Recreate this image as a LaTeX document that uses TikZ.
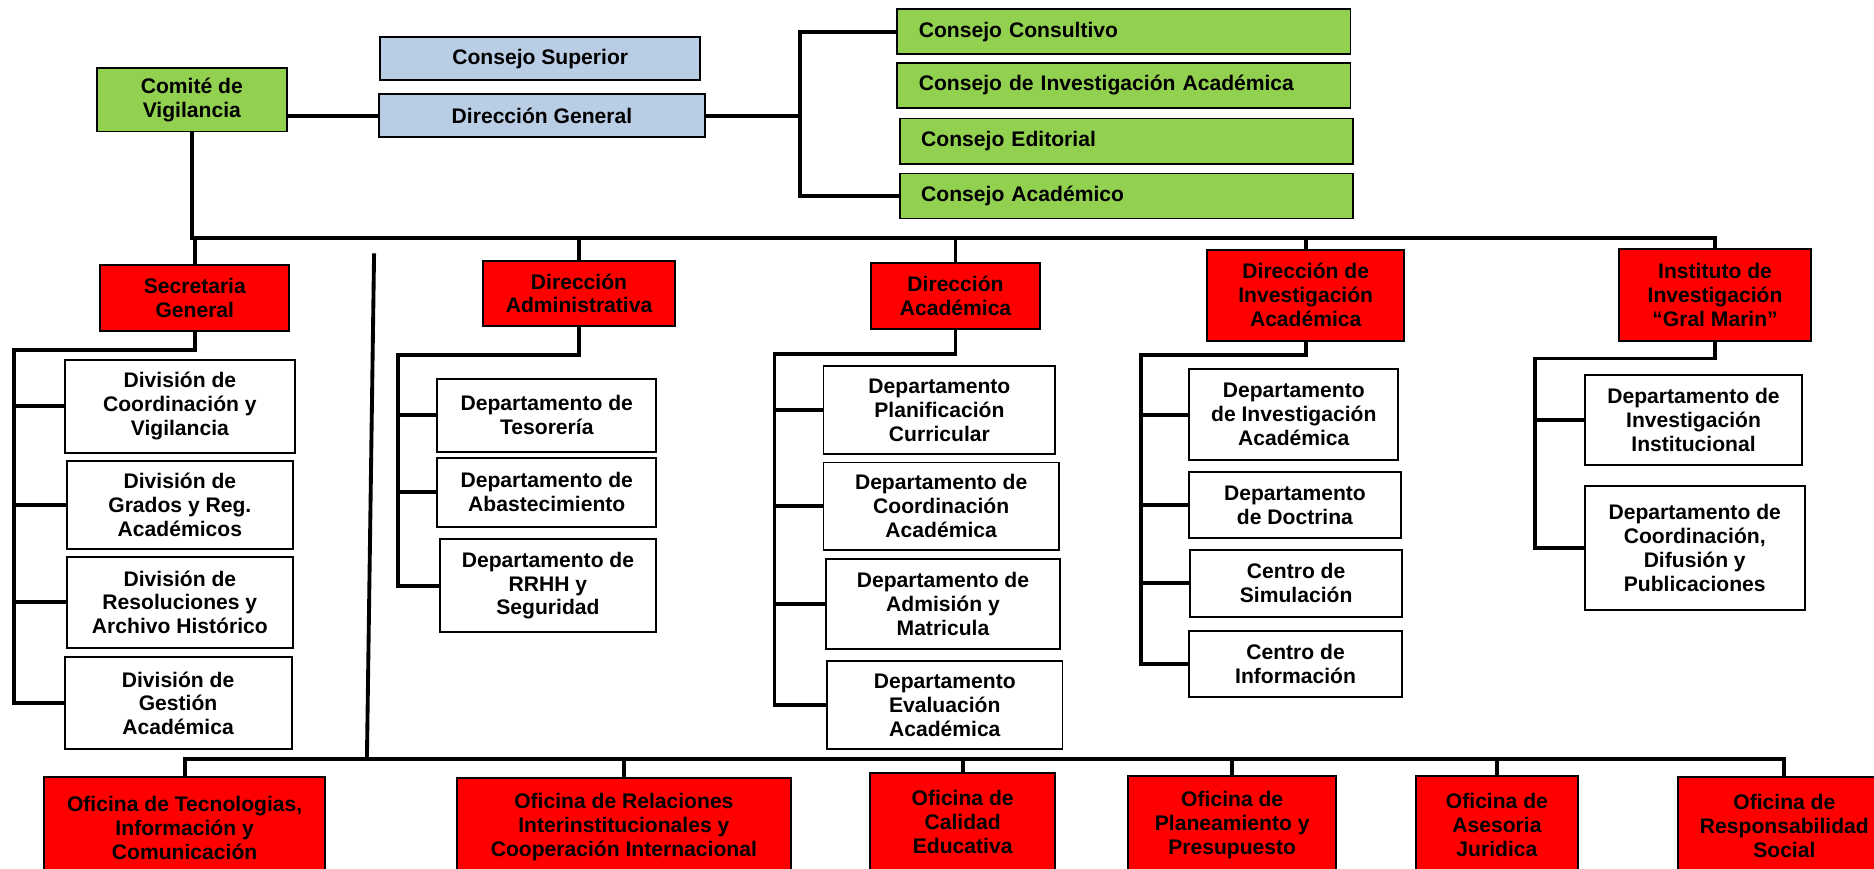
\documentclass[tikz,border=0pt]{standalone}
\usepackage{fontspec}
\setmainfont{Liberation Sans}
\definecolor{govblue}{HTML}{B9CDE5}
\definecolor{congreen}{HTML}{92D050}
\definecolor{unitred}{HTML}{FF0000}
\begin{document}
\begin{tikzpicture}[x=0.0239cm, y=-0.0239cm, line width=2.2pt,
      sz/.style 2 args={minimum width=#1*0.0239cm, minimum height=#2*0.0239cm},
      base/.style={draw, line width=1.1pt, align=center, inner sep=1pt, font=\bfseries\fontsize{12}{13.6}\selectfont},
      gov/.style={base, fill=govblue},
      con/.style={base, fill=congreen, anchor=west, align=left, text width=8.2cm, inner xsep=0.43cm, minimum height=0.9cm},
      unit/.style={base, fill=unitred},
      sub/.style={base, fill=white}]
      \useasboundingbox (0,0) rectangle (1568,727);
      \clip (0,0) rectangle (1568,727);
      \node[con] (cc1) at (750,26.5) {Consejo Consultivo};
      \node[con] (cc2) at (750,71.5) {Consejo de Investigación Académica};
      \node[con] (cc3) at (752,118) {Consejo Editorial};
      \node[con] (cc4) at (752,164) {Consejo Académico};
      \node[base, fill=congreen, sz={159}{53}] (cv) at (160.5,83.5) {Comité de\\Vigilancia};
      \node[gov, sz={268}{36}] (cs) at (452,49) {Consejo Superior};
      \node[gov, sz={273}{36}] (dg) at (453.5,97) {Dirección General};
      \node[unit, sz={158}{55}] (sg) at (163,249.5) {Secretaria\\General};
      \node[unit, sz={161}{55}] (da) at (484.5,245.5) {Dirección\\Administrativa};
      \node[unit, sz={141}{55}] (dac) at (799.5,247.5) {Dirección\\Académica};
      \node[unit, sz={165}{76}] (dia) at (1092.5,247) {Dirección de\\Investigación\\Académica};
      \node[unit, sz={160}{77}] (ii) at (1435,246.5) {Instituto de\\Investigación\\“Gral Marin”};
      \node[sub, sz={193}{78}] (d1) at (150.5,340) {División de\\Coordinación y\\Vigilancia};
      \node[sub, sz={189}{73}] (d2) at (150.5,422.5) {División de\\Grados y Reg.\\Académicos};
      \node[sub, sz={189}{76}] (d3) at (150.5,504) {División de\\Resoluciones y\\Archivo Histórico};
      \node[sub, sz={190}{77}] (d4) at (149,588.5) {División de\\Gestión\\Académica};
      \node[sub, sz={183}{61}] (a1) at (457.5,347.5) {Departamento de\\Tesorería};
      \node[sub, sz={183}{58}] (a2) at (457.5,412) {Departamento de\\Abastecimiento};
      \node[sub, sz={181}{78}] (a3) at (458.5,490) {Departamento de\\RRHH y\\Seguridad};
      \node[sub, sz={194}{74}] (b1) at (786,343) {Departamento\\Planificación\\Curricular};
      \node[sub, sz={197}{73}] (b2) at (787.5,423.5) {Departamento de\\Coordinación\\Académica};
      \node[sub, sz={196}{75}] (b3) at (789,505.5) {Departamento de\\Admisión y\\Matricula};
      \node[sub, sz={197}{74}] (b4) at (790.5,590) {Departamento\\Evaluación\\Académica};
      \node[sub, sz={175}{76}] (c1) at (1082.5,347) {Departamento\\de Investigación\\Académica};
      \node[sub, sz={177}{55}] (c2) at (1083.5,422.5) {Departamento\\de Doctrina};
      \node[sub, sz={177}{56}] (c3) at (1084.5,488) {Centro de\\Simulación};
      \node[sub, sz={178}{55}] (c4) at (1084,555.5) {Centro de\\Información};
      \node[sub, sz={182}{75}] (e1) at (1417,351.5) {Departamento de\\Investigación\\Institucional};
      \node[sub, sz={184}{103}] (e2) at (1418,458.5) {Departamento de\\Coordinación,\\Difusión y\\Publicaciones};
      \node[unit, sz={235}{85}] (o1) at (154.5,692.5) {Oficina de Tecnologias,\\Información y\\Comunicación};
      \node[unit, sz={280}{82}] (o2) at (522,692) {Oficina de Relaciones\\Interinstitucionales y\\Cooperación Internacional};
      \node[unit, sz={155}{82}] (o3) at (805.5,688) {Oficina de\\Calidad\\Educativa};
      \node[unit, sz={174}{82}] (o4) at (1031,690) {Oficina de\\Planeamiento y\\Presupuesto};
      \node[unit, sz={135}{82}] (o5) at (1252.5,690) {Oficina de\\Asesoria\\Juridica};
      \node[unit, sz={178}{82}] (o6) at (1493,691) {Oficina de\\Responsabilidad\\Social};
      \coordinate (k) at (669,97);
      \coordinate (t) at (162,199);
      \coordinate (s1) at (12,293);
      \coordinate (s2) at (333,297);
      \coordinate (s3) at (648,296);
      \coordinate (s4) at (955,297);
      \coordinate (s5) at (1284,300);
      \coordinate (v1) at (313,212);
      \coordinate (v2) at (307,635);
      \draw (dg.west) -- (dg.west -| cv.east);
      \draw (dg.east) -- (k);
      \draw (cc1.west) -| (k) |- (cc4.west);
      \draw (cv.south) -- (cv.south |- t) -- (ii.north |- t) -- (ii.north);
      \draw (sg.north) -- (sg.north |- t);
      \draw (da.north) -- (da.north |- t);
      \draw (dac.north) -- (dac.north |- t);
      \draw (dia.north) -- (dia.north |- t);
      \draw (sg.south) |- (s1) |- (d4.west);
      \draw (d1.west) -- (d1.west -| s1);
      \draw (d2.west) -- (d2.west -| s1);
      \draw (d3.west) -- (d3.west -| s1);
      \draw (da.south) |- (s2) |- (a3.west);
      \draw (a1.west) -- (a1.west -| s2);
      \draw (a2.west) -- (a2.west -| s2);
      \draw (dac.south) |- (s3) |- (b4.west);
      \draw (b1.west) -- (b1.west -| s3);
      \draw (b2.west) -- (b2.west -| s3);
      \draw (b3.west) -- (b3.west -| s3);
      \draw (dia.south) |- (s4) |- (c4.west);
      \draw (c1.west) -- (c1.west -| s4);
      \draw (c2.west) -- (c2.west -| s4);
      \draw (c3.west) -- (c3.west -| s4);
      \draw (ii.south) |- (s5) |- (e2.west);
      \draw (e1.west) -- (e1.west -| s5);
      \draw (v1) -- (v2);
      \draw (o1.north) |- (v2) -| (o6.north);
      \draw (o2.north) -- (o2.north |- v2);
      \draw (o3.north) -- (o3.north |- v2);
      \draw (o4.north) -- (o4.north |- v2);
      \draw (o5.north) -- (o5.north |- v2);
    \end{tikzpicture}
\end{document}
